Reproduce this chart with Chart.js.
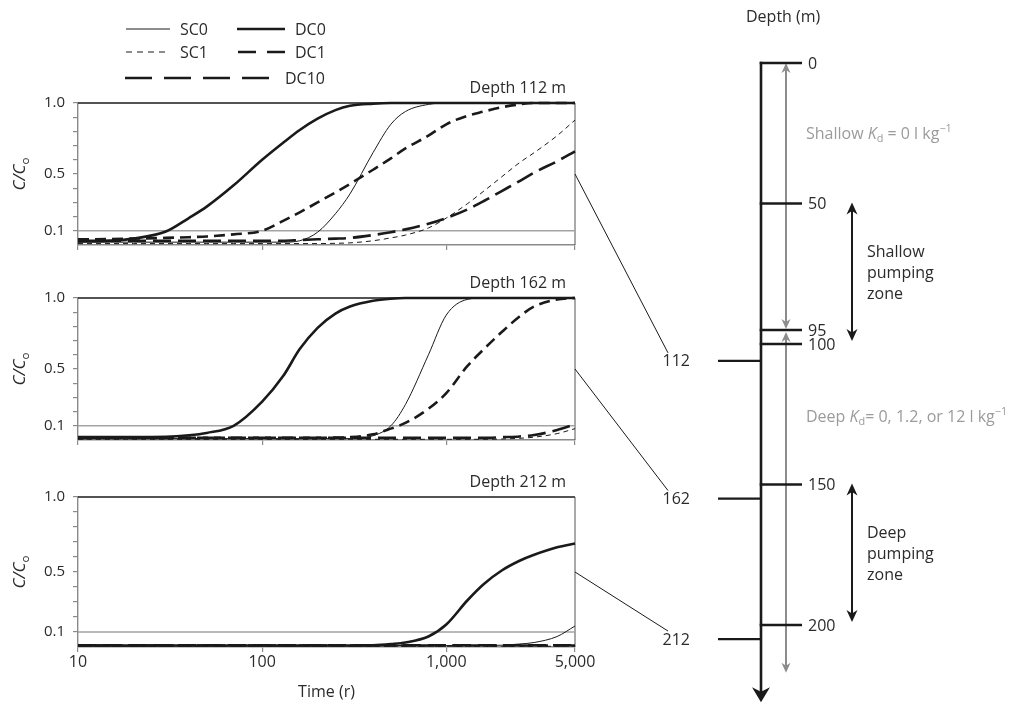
<!DOCTYPE html>
<html>
<head>
<meta charset="utf-8">
<script src="https://cdn.jsdelivr.net/npm/chart.js@4.4.1/dist/chart.umd.min.js"></script>
<style>
  html, body { margin: 0; padding: 0; background: #fff; }
  #wrap { position: relative; width: 1009px; height: 703px; overflow: hidden; background: #fff; }
  #wrap canvas { position: absolute; }
</style>
</head>
<body>
<div id="wrap">
  <canvas id="panel112" width="600" height="262" style="left:0px;top:0px"></canvas>
  <canvas id="panel162" width="600" height="262" style="left:0px;top:195px"></canvas>
  <canvas id="panel212" width="600" height="309" style="left:0px;top:394px"></canvas>
  <canvas id="depthChart" width="409" height="703" style="left:600px;top:0px"></canvas>
  <canvas id="links" width="1009" height="703" style="left:0px;top:0px"></canvas>
</div>
<script>
// C/Co breakthrough curves, one array per run and well depth
const times = [10, 15, 20, 30, 40, 50, 70, 100, 130, 160, 200, 250, 300, 400, 500, 600, 800, 1000, 1300, 1600, 2000, 2500, 3000, 4000, 5000];

// depth 112 m
const sc0At112 = [0.02, 0.02, 0.02, 0.02, 0.02, 0.02, 0.02, 0.02, 0.02, 0.03, 0.09, 0.22, 0.36, 0.65, 0.85, 0.94, 0.99, 1, 1, 1, 1, 1, 1, 1, 1];
const sc1At112 = [0.01, 0.01, 0.01, 0.01, 0.01, 0.01, 0.01, 0.01, 0.01, 0.01, 0.01, 0.012, 0.015, 0.03, 0.05, 0.07, 0.12, 0.19, 0.29, 0.38, 0.48, 0.58, 0.65, 0.77, 0.88];
const dc0At112 = [0.025, 0.03, 0.045, 0.095, 0.19, 0.27, 0.42, 0.6, 0.72, 0.81, 0.89, 0.95, 0.98, 0.995, 1, 1, 1, 1, 1, 1, 1, 1, 1, 1, 1];
const dc1At112 = [0.04, 0.042, 0.045, 0.05, 0.055, 0.06, 0.075, 0.1, 0.17, 0.23, 0.3, 0.37, 0.43, 0.53, 0.61, 0.68, 0.77, 0.85, 0.91, 0.94, 0.97, 0.99, 1, 1, 1];
const dc10At112 = [0.03, 0.03, 0.03, 0.03, 0.03, 0.03, 0.03, 0.03, 0.03, 0.035, 0.04, 0.045, 0.05, 0.07, 0.09, 0.11, 0.15, 0.19, 0.25, 0.31, 0.38, 0.45, 0.51, 0.59, 0.66];

// depth 162 m
const sc0At162 = [0.01, 0.01, 0.01, 0.01, 0.01, 0.01, 0.01, 0.01, 0.01, 0.01, 0.01, 0.01, 0.01, 0.03, 0.1, 0.25, 0.6, 0.88, 0.99, 1, 1, 1, 1, 1, 1];
const sc1At162 = [0.005, 0.005, 0.005, 0.005, 0.005, 0.005, 0.005, 0.005, 0.005, 0.005, 0.005, 0.005, 0.005, 0.005, 0.005, 0.005, 0.005, 0.005, 0.005, 0.005, 0.007, 0.012, 0.02, 0.045, 0.08];
const dc0At162 = [0.02, 0.02, 0.02, 0.022, 0.033, 0.05, 0.1, 0.27, 0.45, 0.64, 0.79, 0.89, 0.94, 0.98, 0.995, 1, 1, 1, 1, 1, 1, 1, 1, 1, 1];
const dc1At162 = [0.015, 0.015, 0.015, 0.015, 0.015, 0.015, 0.015, 0.015, 0.015, 0.015, 0.015, 0.017, 0.02, 0.04, 0.08, 0.12, 0.22, 0.33, 0.52, 0.64, 0.76, 0.87, 0.94, 0.99, 1];
const dc10At162 = [0.015, 0.015, 0.015, 0.015, 0.015, 0.015, 0.015, 0.015, 0.015, 0.015, 0.015, 0.015, 0.015, 0.015, 0.015, 0.015, 0.015, 0.015, 0.015, 0.015, 0.02, 0.025, 0.035, 0.07, 0.11];

// depth 212 m
const sc0At212 = [0.01, 0.01, 0.01, 0.01, 0.01, 0.01, 0.01, 0.01, 0.01, 0.01, 0.01, 0.01, 0.01, 0.01, 0.01, 0.01, 0.01, 0.01, 0.01, 0.01, 0.012, 0.02, 0.03, 0.07, 0.14];
const sc1At212 = [0.005, 0.005, 0.005, 0.005, 0.005, 0.005, 0.005, 0.005, 0.005, 0.005, 0.005, 0.005, 0.005, 0.005, 0.005, 0.005, 0.005, 0.005, 0.005, 0.005, 0.005, 0.005, 0.005, 0.005, 0.005];
const dc0At212 = [0.01, 0.01, 0.01, 0.01, 0.01, 0.01, 0.01, 0.01, 0.01, 0.01, 0.01, 0.01, 0.01, 0.012, 0.02, 0.03, 0.07, 0.15, 0.31, 0.42, 0.51, 0.575, 0.615, 0.665, 0.69];
const dc1At212 = [0.01, 0.01, 0.01, 0.01, 0.01, 0.01, 0.01, 0.01, 0.01, 0.01, 0.01, 0.01, 0.01, 0.01, 0.01, 0.01, 0.01, 0.01, 0.01, 0.01, 0.01, 0.01, 0.01, 0.01, 0.01];
const dc10At212 = [0.012, 0.012, 0.012, 0.012, 0.012, 0.012, 0.012, 0.012, 0.012, 0.012, 0.012, 0.012, 0.012, 0.012, 0.012, 0.012, 0.012, 0.012, 0.012, 0.012, 0.012, 0.012, 0.012, 0.012, 0.012];

const seriesNames = ['SC0', 'SC1', 'DC0', 'DC1', 'DC10'];
const panelDepths = [112, 162, 212];
const xTickValues = [10, 100, 1000, 5000];
const yLabelValues = [0.1, 0.5, 1.0];
const thresholdLevel = 0.1;
const linkLevel = 0.5;

// depth diagram (m)
const depthLevels = [0, 50, 95, 100, 150, 200];
const wellMarkDepths = [106, 155, 205];   // where the 112/162/212 marks sit on the drawing
const shallowZone = [50, 100];
const deepZone = [150, 200];
const shallowKdSpan = [0, 95];
const deepKdSpan = [95, 217];
const depthAxisEnd = 227.5;

const panelSeries = [
  [sc0At112, sc1At112, dc0At112, dc1At112, dc10At112],
  [sc0At162, sc1At162, dc0At162, dc1At162, dc10At162],
  [sc0At212, sc1At212, dc0At212, dc1At212, dc10At212]
];

const FONT = "'Open Sans', sans-serif";
const INK = '#1a1a1a';
const TEXT = '#2b2b2b';
const AXIS = '#8a8a8a';
const GREY = '#9b9b9b';

const lineStyles = {
  SC0: { borderWidth: 1, borderDash: [] },
  SC1: { borderWidth: 1, borderDash: [5, 4] },
  DC0: { borderWidth: 2.6, borderDash: [] },
  DC1: { borderWidth: 2.6, borderDash: [11, 6] },
  DC10: { borderWidth: 2.6, borderDash: [18, 7] }
};

const legendLayout = [
  { name: 'SC0', x: 126, y: 29, len: 44, dash: [], gap: 10 },
  { name: 'DC0', x: 237, y: 29, len: 48, dash: [], gap: 10 },
  { name: 'SC1', x: 126, y: 52, len: 44, dash: [6, 5], gap: 10 },
  { name: 'DC1', x: 238, y: 52, len: 47, dash: [18, 11], gap: 10 },
  { name: 'DC10', x: 125, y: 78, len: 155, dash: [27, 12], gap: 5 }
];

function font(size, style) {
  return (style ? style + ' ' : '') + size + 'px ' + FONT;
}

// text made of runs: '' normal, 'i' italic, 'sub', 'sup'
function drawRich(ctx, parts, x, y, size, color) {
  ctx.save();
  ctx.fillStyle = color;
  ctx.textBaseline = 'middle';
  ctx.textAlign = 'left';
  let cx = x;
  parts.forEach(([t, kind]) => {
    let s = size, dy = 0, st = '';
    if (kind === 'i') st = 'italic';
    if (kind === 'sub') { s = size * 0.68; dy = size * 0.32; }
    if (kind === 'sup') { s = size * 0.68; dy = -size * 0.35; }
    ctx.font = font(s, st);
    ctx.fillText(t, cx, y + dy);
    cx += ctx.measureText(t).width;
  });
  ctx.restore();
  return cx - x;
}

function measureRich(ctx, parts, size) {
  let w = 0;
  parts.forEach(([t, kind]) => {
    let s = size, st = '';
    if (kind === 'i') st = 'italic';
    if (kind === 'sub' || kind === 'sup') s = size * 0.68;
    ctx.font = font(s, st);
    w += ctx.measureText(t).width;
  });
  return w;
}

function arrowHead(ctx, x, tipY, dir, halfW, len, color) {
  ctx.fillStyle = color;
  ctx.beginPath();
  ctx.moveTo(x, tipY);
  ctx.lineTo(x - halfW, tipY - dir * len);
  ctx.lineTo(x, tipY - dir * len * 0.7);
  ctx.lineTo(x + halfW, tipY - dir * len);
  ctx.closePath();
  ctx.fill();
}

const panelDecor = {
  id: 'panelDecor',
  beforeDatasetsDraw(chart) {
    const { ctx, chartArea: a } = chart;
    ctx.save();
    ctx.strokeStyle = INK;
    ctx.lineWidth = 1.3;
    ctx.beginPath();
    ctx.moveTo(a.left, a.top);
    ctx.lineTo(a.right, a.top);
    ctx.stroke();
    ctx.strokeStyle = '#555';
    ctx.lineWidth = 1;
    ctx.beginPath();
    ctx.moveTo(a.right, a.top);
    ctx.lineTo(a.right, a.bottom);
    ctx.stroke();
    ctx.restore();
  },
  afterDraw(chart, args, opts) {
    const { ctx, chartArea: a } = chart;
    ctx.save();
    // panel title
    ctx.font = font(16);
    ctx.fillStyle = TEXT;
    ctx.textAlign = 'right';
    ctx.textBaseline = 'alphabetic';
    ctx.fillText('Depth ' + opts.depth + ' m', a.right - 9, a.top - 10);

    // y title C/Co, rotated
    const parts = [['C/C', 'i'], ['o', 'sub']];
    const w = measureRich(ctx, parts, 17);
    ctx.translate(20, (a.top + a.bottom) / 2);
    ctx.rotate(-Math.PI / 2);
    drawRich(ctx, parts, -w / 2, 0, 17, TEXT);
    ctx.restore();

    if (opts.legend) {
      ctx.save();
      legendLayout.forEach(item => {
        const ds = chart.data.datasets.find(d => d.label === item.name);
        ctx.strokeStyle = ds.borderColor;
        ctx.lineWidth = ds.borderWidth;
        ctx.setLineDash(item.dash);
        ctx.beginPath();
        ctx.moveTo(item.x, item.y);
        ctx.lineTo(item.x + item.len, item.y);
        ctx.stroke();
        ctx.setLineDash([]);
        ctx.font = font(16);
        ctx.fillStyle = TEXT;
        ctx.textAlign = 'left';
        ctx.textBaseline = 'middle';
        ctx.fillText(item.name, item.x + item.len + item.gap, item.y + 1);
      });
      ctx.restore();
    }
  }
};

function makePanel(canvasId, idx, showX) {
  const curves = seriesNames.map((name, k) => ({
    label: name,
    data: times.map((t, i) => ({ x: t, y: panelSeries[idx][k][i] })),
    borderColor: INK,
    borderWidth: lineStyles[name].borderWidth,
    borderDash: lineStyles[name].borderDash,
    pointRadius: 0,
    cubicInterpolationMode: 'monotone',
    fill: false,
    clip: 4
  }));
  curves.push({
    label: 'threshold',
    data: [{ x: times[0], y: thresholdLevel }, { x: times[times.length - 1], y: thresholdLevel }],
    borderColor: '#a3a3a3',
    borderWidth: 1.6,
    pointRadius: 0,
    fill: false
  });

  return new Chart(document.getElementById(canvasId), {
    type: 'line',
    data: { datasets: curves },
    options: {
      responsive: false,
      animation: false,
      events: [],
      layout: { padding: { top: 103, right: 25, left: 0, bottom: 0 } },
      plugins: {
        legend: { display: false },
        tooltip: { enabled: false },
        panelDecor: { depth: panelDepths[idx], legend: idx === 0 }
      },
      scales: {
        x: {
          type: 'logarithmic',
          min: 10,
          max: 5000,
          afterBuildTicks: s => { s.ticks = xTickValues.map(v => ({ value: v })); },
          afterFit: s => { s.height = showX ? 56 : 9; },
          ticks: {
            display: showX,
            autoSkip: false,
            maxRotation: 0,
            padding: 1,
            color: TEXT,
            font: { family: FONT, size: 16 },
            callback: v => Number(v).toLocaleString('en-US')
          },
          grid: { drawOnChartArea: false, drawTicks: true, tickLength: 5, color: AXIS, lineWidth: 1.2 },
          border: { color: AXIS, width: 1.4 },
          title: {
            display: showX,
            text: 'Time (r)',
            color: TEXT,
            font: { family: FONT, size: 16 },
            padding: { top: 0, bottom: 1 }
          }
        },
        y: {
          min: 0,
          max: 1,
          afterFit: s => { s.width = 78; },
          ticks: {
            stepSize: 0.1,
            autoSkip: false,
            padding: 8,
            color: TEXT,
            font: { family: FONT, size: 15 },
            callback: v => {
              if (Math.abs(v) < 1e-6) return null;
              return yLabelValues.some(l => Math.abs(l - v) < 1e-6) ? v.toFixed(1) : '';
            }
          },
          grid: { drawOnChartArea: false, drawTicks: true, tickLength: 5, color: AXIS, lineWidth: 1.2 },
          border: { color: AXIS, width: 1.4 }
        }
      }
    },
    plugins: [panelDecor]
  });
}

const depthDiagram = {
  id: 'depthDiagram',
  afterDraw(chart) {
    const ctx = chart.ctx;
    const Y = d => chart.scales.y.getPixelForValue(d);
    const axisX = 161, tickEnd = 202, markStart = 118, greyX = 186, zoneX = 252;
    ctx.save();
    ctx.lineCap = 'butt';

    ctx.font = font(16);
    ctx.fillStyle = TEXT;
    ctx.textAlign = 'left';
    ctx.textBaseline = 'middle';
    ctx.fillText('Depth (m)', 146, 17);

    // grey Kd arrows
    ctx.strokeStyle = '#8c8c8c';
    ctx.lineWidth = 2;
    [shallowKdSpan, deepKdSpan].forEach((span, i) => {
      const yTop = Y(span[0]) + (i === 1 ? 2 : 0);
      const yBot = Y(span[1]) - (i === 0 ? 1 : 0);
      ctx.beginPath();
      ctx.moveTo(greyX, yTop + 6);
      ctx.lineTo(greyX, yBot - 6);
      ctx.stroke();
      arrowHead(ctx, greyX, yTop, -1, 4.5, 10, '#8c8c8c');
      arrowHead(ctx, greyX, yBot, 1, 4.5, 10, '#8c8c8c');
    });

    // main depth axis
    ctx.strokeStyle = INK;
    ctx.lineWidth = 2.6;
    ctx.beginPath();
    ctx.moveTo(axisX, Y(0) - 1.3);
    ctx.lineTo(axisX, Y(depthAxisEnd) - 8);
    ctx.stroke();
    arrowHead(ctx, axisX, Y(depthAxisEnd), 1, 9, 15, INK);

    // depth ticks and labels
    depthLevels.forEach(d => {
      ctx.strokeStyle = INK;
      ctx.lineWidth = 2.6;
      ctx.beginPath();
      ctx.moveTo(axisX - 1.3, Y(d));
      ctx.lineTo(tickEnd, Y(d));
      ctx.stroke();
      ctx.font = font(16);
      ctx.fillStyle = TEXT;
      ctx.textAlign = 'left';
      ctx.fillText(String(d), tickEnd + 6, Y(d) + 1);
    });

    // well marks 112 / 162 / 212
    wellMarkDepths.forEach((d, i) => {
      ctx.strokeStyle = INK;
      ctx.lineWidth = 2.2;
      ctx.beginPath();
      ctx.moveTo(markStart, Y(d));
      ctx.lineTo(axisX, Y(d));
      ctx.stroke();
      ctx.font = font(16);
      ctx.fillStyle = TEXT;
      ctx.textAlign = 'right';
      ctx.fillText(String(panelDepths[i]), 90, Y(d) + 1);
    });

    // pumping zones
    [[shallowZone, 'Shallow'], [deepZone, 'Deep']].forEach(([zone, name]) => {
      const yTop = Y(zone[0]) - 1, yBot = Y(zone[1]) - 3;
      ctx.strokeStyle = INK;
      ctx.lineWidth = 2;
      ctx.beginPath();
      ctx.moveTo(zoneX, yTop + 6);
      ctx.lineTo(zoneX, yBot - 6);
      ctx.stroke();
      arrowHead(ctx, zoneX, yTop, -1, 5.5, 12, INK);
      arrowHead(ctx, zoneX, yBot, 1, 5.5, 12, INK);
      const mid = Y((zone[0] + zone[1]) / 2);
      ctx.font = font(16);
      ctx.fillStyle = TEXT;
      ctx.textAlign = 'left';
      ctx.fillText(name, 267, mid - 21);
      ctx.fillText('pumping', 267, mid);
      ctx.fillText('zone', 267, mid + 21);
    });

    // sorption labels
    drawRich(ctx, [['Shallow ', ''], ['K', 'i'], ['d', 'sub'], [' = 0 l kg', ''], ['\u22121', 'sup']], 206, Y(25.3), 16, GREY);
    drawRich(ctx, [['Deep ', ''], ['K', 'i'], ['d', 'sub'], ['= 0, 1.2, or 12 l kg', ''], ['\u22121', 'sup']], 206, Y(126), 16, GREY);
    ctx.restore();
  }
};

const panels = [
  makePanel('panel112', 0, false),
  makePanel('panel162', 1, false),
  makePanel('panel212', 2, true)
];

const depthChart = new Chart(document.getElementById('depthChart'), {
  type: 'scatter',
  data: { datasets: [] },
  options: {
    responsive: false,
    animation: false,
    events: [],
    layout: { padding: { top: 63, bottom: 703 - 63 - 220 * 2.81, left: 0, right: 0 } },
    plugins: { legend: { display: false }, tooltip: { enabled: false } },
    scales: {
      x: { display: false, min: 0, max: 1 },
      y: { display: false, reverse: true, min: 0, max: 220 }
    }
  },
  plugins: [depthDiagram]
});

// connectors from each panel to its well mark on the depth diagram
function drawLinks() {
  const ctx = document.getElementById('links').getContext('2d');
  const dc = document.getElementById('depthChart');
  ctx.strokeStyle = INK;
  ctx.lineWidth = 1;
  panels.forEach((p, i) => {
    const c = p.canvas;
    const x0 = c.offsetLeft + p.chartArea.right;
    const y0 = c.offsetTop + p.scales.y.getPixelForValue(linkLevel);
    const x1 = dc.offsetLeft + 68;
    const y1 = dc.offsetTop + depthChart.scales.y.getPixelForValue(wellMarkDepths[i]) - 8;
    ctx.beginPath();
    ctx.moveTo(x0, y0);
    ctx.lineTo(x1, y1);
    ctx.stroke();
  });
}
drawLinks();
</script>
</body>
</html>
